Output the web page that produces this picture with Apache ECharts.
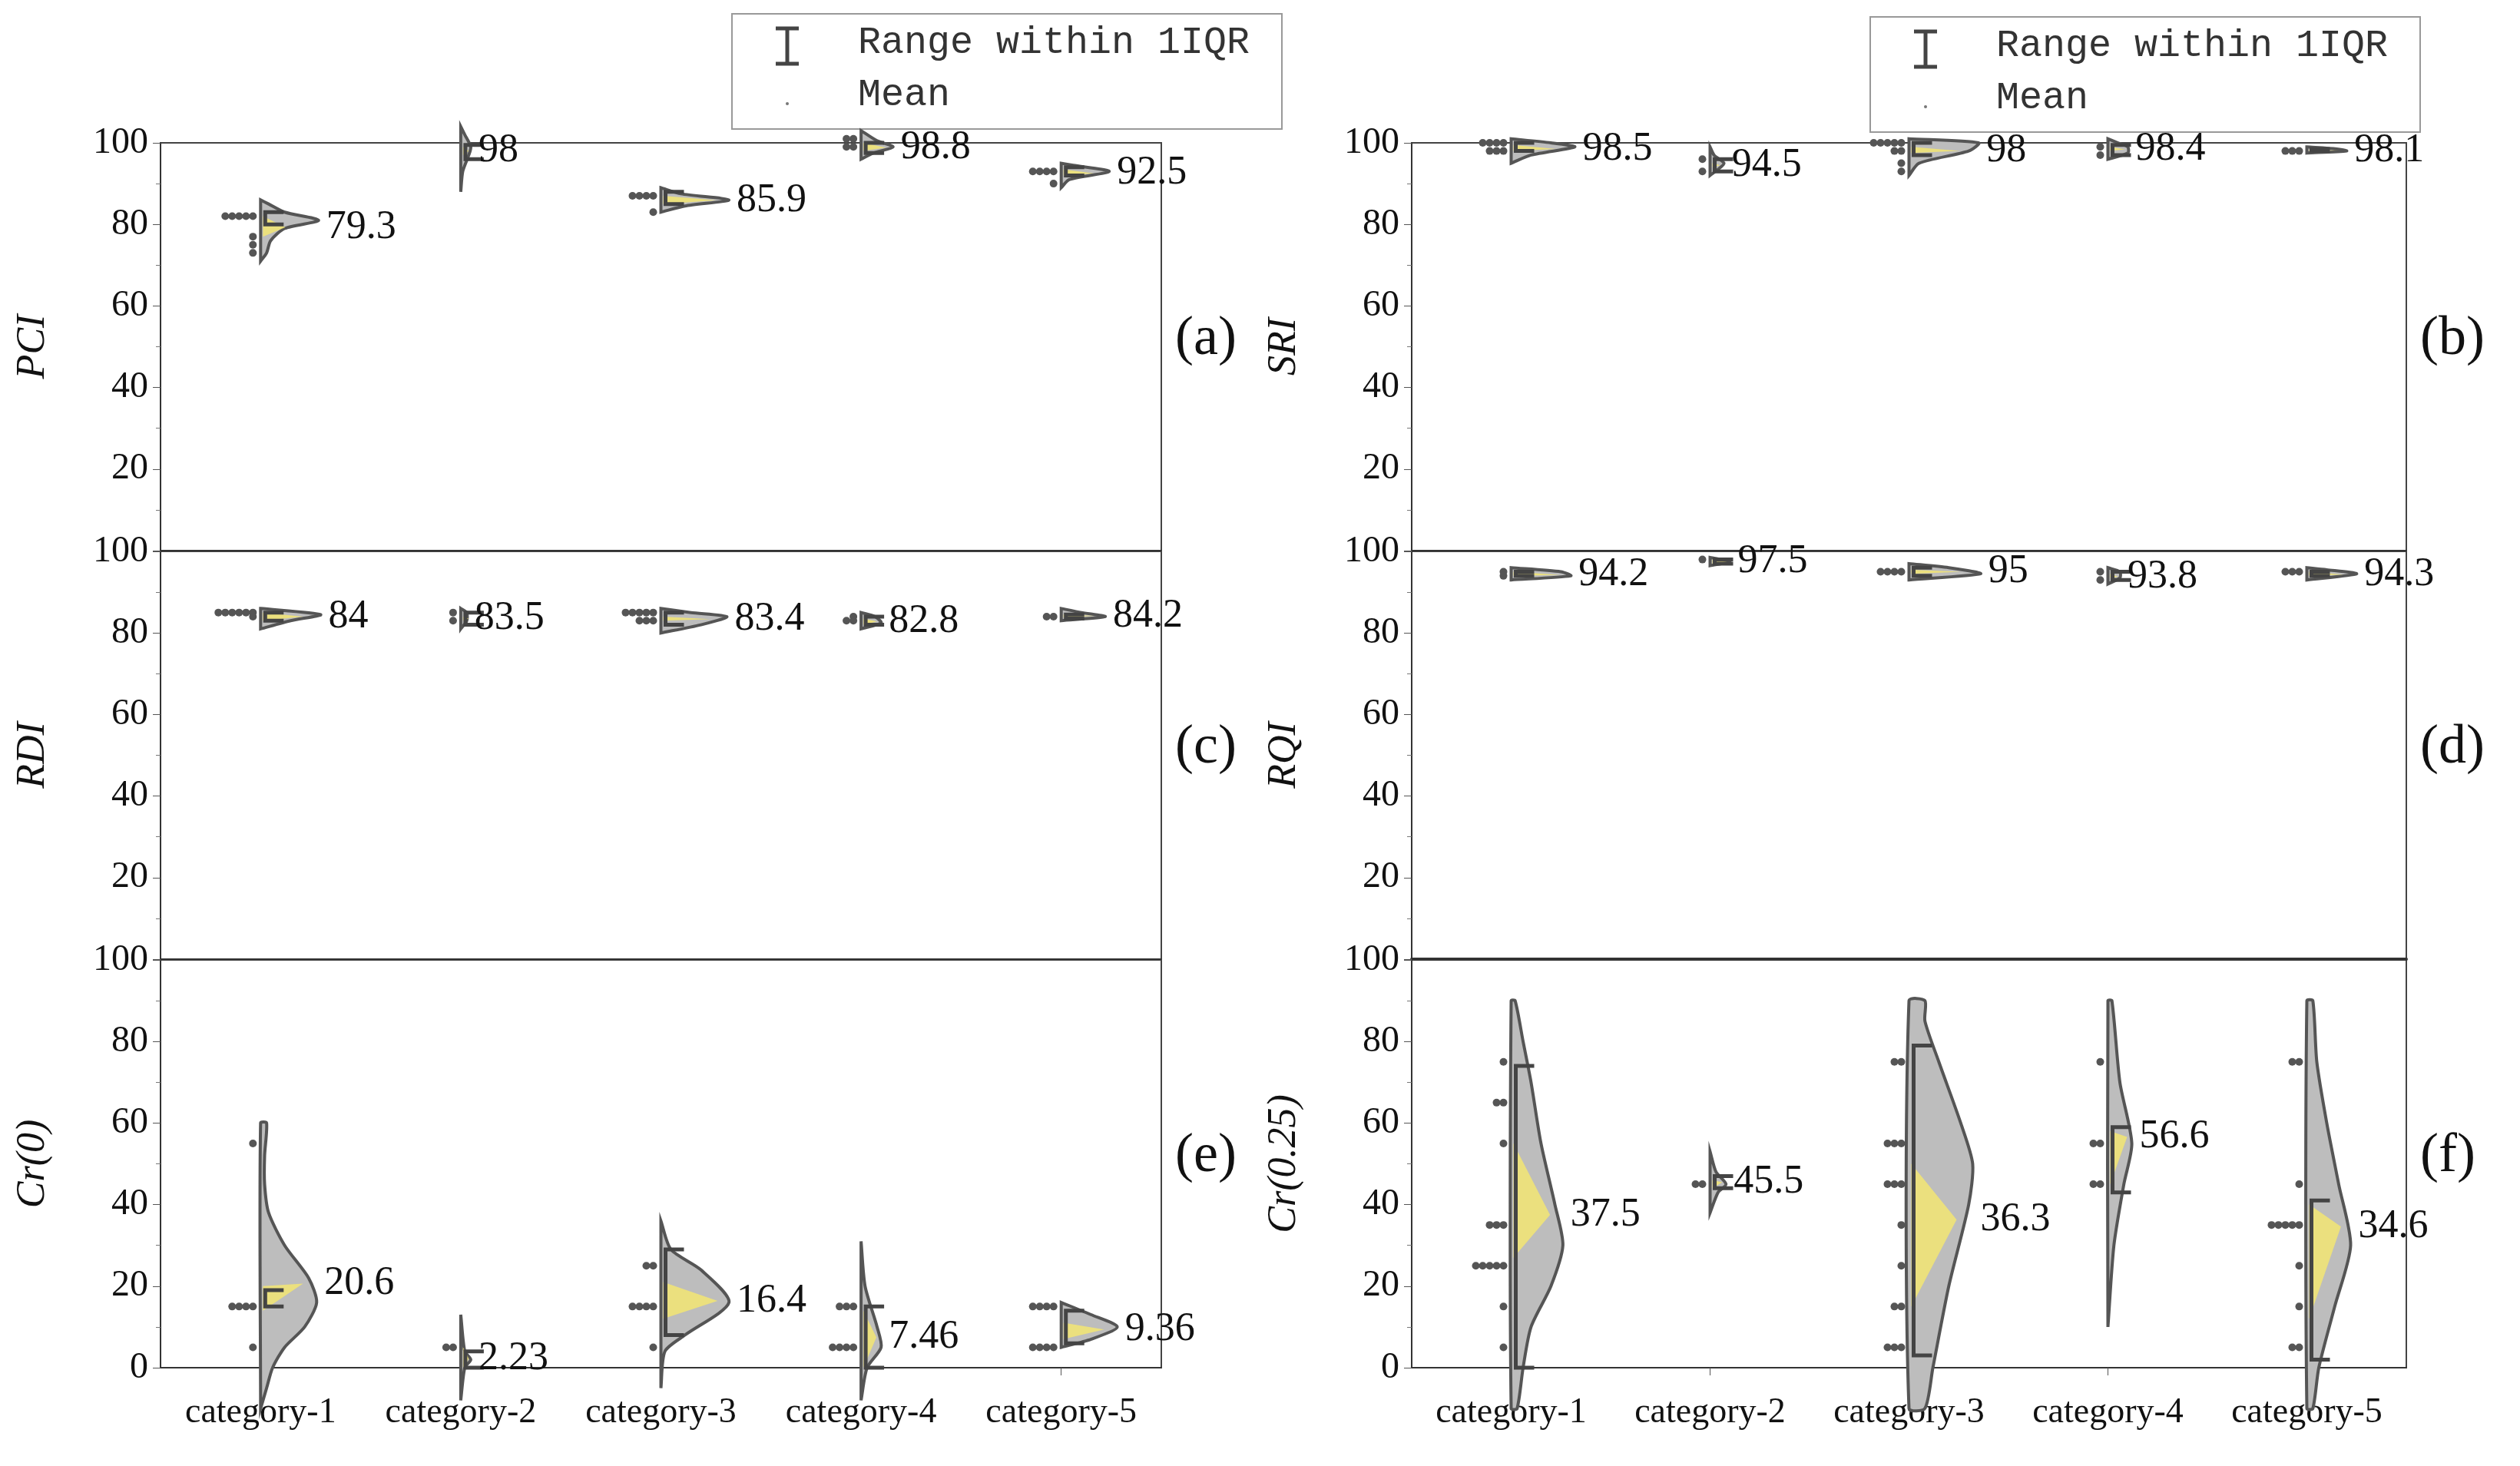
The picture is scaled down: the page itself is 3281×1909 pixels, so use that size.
<!DOCTYPE html>
<html>
<head>
<meta charset="utf-8"/>
<title>violins</title>
<script src="https://cdn.jsdelivr.net/npm/echarts@6/dist/echarts.min.js"></script>
</head>
<body style="margin:0;background:#fff">
<div id="main" style="width:3281px;height:1909px;"></div>
<script type="text/javascript">
var categories = ['category-1', 'category-2', 'category-3', 'category-4', 'category-5'];
var yTicks = [0, 20, 40, 60, 80, 100];

// PCI (a)
var pciMean = [79.3, 98, 85.9, 98.8, 92.5];
var pciShape = [
    [[71,0],[73,0.03],[76,0.05],[79,0.12],[81,0.29],[83,0.12],[85,0.04],[86,0]],
    [[88,0],[93,0.01],[97,0.04],[99,0.05],[102,0.02],[104,0]],
    [[83,0],[84.5,0.12],[86,0.34],[87.5,0.1],[89,0]],
    [[96,0],[97.5,0.06],[99,0.16],[100.5,0.08],[103,0]],
    [[89,0],[91,0.04],[93,0.24],[94.5,0.06],[95,0]]];
var pciIqr = [[80,83],[96,99.5],[85,88],[97.5,100],[92,94]];
var pciWedge = [[77,82],[97,99],[85,87],[98,100],[92,93.5]];
var pciPts = [[82,82,82,82,82,77,75,73],[],[87,87,87,87,83],[101,101,99,99],[93,93,93,93,90]];

// SRI (b)
var sriMean = [98.5, 94.5, 98, 98.4, 98.1];
var sriShape = [
    [[95,0],[97,0.1],[99,0.32],[100,0.2],[101,0]],
    [[92,0],[93.5,0.04],[95,0.07],[97,0.02],[99,0]],
    [[92,0],[95,0.05],[98,0.3],[100,0.35],[101,0]],
    [[96,0],[97.5,0.1],[99,0.1],[100,0.05],[101,0]],
    [[97.5,0],[98,0.2],[98.5,0.15],[99,0]]];
var sriIqr = [[98,100],[93,96],[97,100],[97,99.5],[98,98.5]];
var sriWedge = [[98,99.5],[94,95],[97.5,99],[98,99],[98,98.3]];
var sriPts = [[100,100,100,100,98,98,98],[96,93],[100,100,100,100,100,98,98,95,93],[99,97],[98,98,98]];

// RDI (c)
var rdiMean = [84, 83.5, 83.4, 82.8, 84.2];
var rdiShape = [
    [[81,0],[83,0.15],[84.5,0.3],[86,0]],
    [[81,0],[83,0.03],[85,0.03],[86,0]],
    [[80,0],[82,0.2],[84,0.33],[85,0.15],[86,0]],
    [[81,0],[82.5,0.1],[84,0.07],[85,0]],
    [[83,0],[84,0.22],[85,0.1],[86,0]]];
var rdiIqr = [[83,85],[82,85],[82,85],[82,84],[83.5,84.5]];
var rdiWedge = [[83,85],[83,84],[83,84],[82,83.5],[83.8,84.5]];
var rdiPts = [[85,85,85,85,85,85,84],[85,83],[85,85,85,85,85,83,83,83],[84,83,83],[84,84]];

// RQI (d)
var rqiMean = [94.2, 97.5, 95, 93.8, 94.3];
var rqiShape = [
    [[93,0],[94,0.3],[95,0.25],[96,0]],
    [[96.5,0],[97.5,0.1],[98.5,0]],
    [[93,0],[94.5,0.36],[96,0.2],[97,0]],
    [[92,0],[93.5,0.06],[95,0.06],[96,0]],
    [[93,0],[94.5,0.25],[95.5,0.1],[96,0]]];
var rqiIqr = [[94,95],[97,98],[94,96],[93,95],[94,95]];
var rqiWedge = [[94,95],[97,98],[94.5,95.5],[93.5,94.5],[94,95]];
var rqiPts = [[95,94],[98],[95,95,95,95],[95,93],[95,95,95]];

// Cr(0) (e)
var cr0Mean = [20.6, 2.23, 16.4, 7.46, 9.36];
var cr0Shape = [
    [[-10,0],[-5,0.03],[0,0.06],[5,0.12],[10,0.22],[16,0.28],[22,0.24],[30,0.12],[38,0.04],[45,0.02],[52,0.02],[60,0.03]],
    [[-8,0],[0,0.02],[2,0.05],[4,0.02],[13,0]],
    [[-5,0],[4,0.02],[8,0.12],[16,0.34],[24,0.2],[29,0.05],[36,0]],
    [[-8,0],[0,0.03],[5,0.1],[10,0.08],[20,0.02],[31,0]],
    [[5,0],[7,0.15],[10,0.28],[13,0.15],[16,0]]];
var cr0Iqr = [[15,19],[0,4],[8,29],[0,15],[6,14]];
var cr0Wedge = [[14,20],[0,5],[12,21],[0,14],[7,11]];
var cr0Pts = [[15,15,15,15,55,5],[5,5],[15,15,15,15,25,25,5],[15,15,15,5,5,5,5],[15,15,15,15,5,5,5,5]];

// Cr(0.25) (f)
var cr25Mean = [37.5, 45.5, 36.3, 56.6, 34.6];
var cr25Shape = [
    [[-10,0.03],[0,0.06],[10,0.1],[20,0.2],[30,0.26],[40,0.22],[55,0.15],[70,0.1],[80,0.06],[90,0.02]],
    [[38,0],[43,0.04],[45,0.08],[48,0.03],[53,0]],
    [[-10,0.08],[0,0.12],[20,0.2],[40,0.3],[50,0.32],[60,0.26],[75,0.15],[85,0.08],[90,0.08]],
    [[10,0],[30,0.03],[45,0.08],[55,0.12],[70,0.06],[90,0.02]],
    [[-10,0.03],[0,0.06],[15,0.14],[30,0.22],[45,0.16],[60,0.1],[75,0.05],[90,0.03]]];
var cr25Iqr = [[0,74],[44,47],[3,79],[43,59],[2,41]];
var cr25Wedge = [[27,55],[44,46],[15,50],[45,58],[12,40]];
var cr25Pts = [[75,65,65,55,35,35,35,25,25,25,25,25,15,5],[45,45],[75,75,55,55,55,45,45,45,35,25,15,15,5,5,5],[75,55,55,45,45],[75,75,45,35,35,35,35,35,25,15,5,5]];

var panels = [
    {name: 'PCI', tag: '(a)', mean: pciMean, shape: pciShape, iqr: pciIqr, wedge: pciWedge, pts: pciPts},
    {name: 'SRI', tag: '(b)', mean: sriMean, shape: sriShape, iqr: sriIqr, wedge: sriWedge, pts: sriPts},
    {name: 'RDI', tag: '(c)', mean: rdiMean, shape: rdiShape, iqr: rdiIqr, wedge: rdiWedge, pts: rdiPts},
    {name: 'RQI', tag: '(d)', mean: rqiMean, shape: rqiShape, iqr: rqiIqr, wedge: rqiWedge, pts: rqiPts},
    {name: 'Cr(0)', tag: '(e)', mean: cr0Mean, shape: cr0Shape, iqr: cr0Iqr, wedge: cr0Wedge, pts: cr0Pts},
    {name: 'Cr(0.25)', tag: '(f)', mean: cr25Mean, shape: cr25Shape, iqr: cr25Iqr, wedge: cr25Wedge, pts: cr25Pts}
];

var FONT = '"Liberation Serif", "DejaVu Serif", serif';
var tops = [186, 718, 1250];
var H = 531;
var colL = {left: 209, width: 1303};
var colR = {left: 1838, width: 1295};

function widthAt(prof, y) {
    for (var i = 0; i < prof.length - 1; i++) {
        if (y >= prof[i][0] && y <= prof[i + 1][0]) {
            var t = (y - prof[i][0]) / (prof[i + 1][0] - prof[i][0]);
            return prof[i][1] + t * (prof[i + 1][1] - prof[i][1]);
        }
    }
    return 0;
}

var grids = [], xAxes = [], yAxes = [], series = [], graphics = [];
panels.forEach(function (p, k) {
    var col = k % 2 === 0 ? colL : colR;
    var row = Math.floor(k / 2);
    var bottom = row === 2;
    grids.push({left: col.left, width: col.width, top: tops[row], height: H,
        show: true, borderColor: '#444', borderWidth: 2, backgroundColor: 'transparent'});
    xAxes.push({type: 'category', gridIndex: k, data: categories,
        axisLine: {show: true, lineStyle: {color: '#333', width: (k === 3) ? 4 : 2}},
        axisTick: {show: bottom, alignWithLabel: true, length: 10, lineStyle: {color: '#555'}},
        axisLabel: {show: bottom, fontFamily: FONT, fontSize: 46, color: '#111', margin: 36}});
    yAxes.push({type: 'value', gridIndex: k, min: 0, max: 100, interval: 20,
        name: p.name, nameLocation: 'middle', nameGap: 140,
        nameTextStyle: {fontFamily: FONT, fontSize: 52, fontStyle: 'italic', color: '#111'},
        axisLine: {show: true, lineStyle: {color: '#333', width: 2}},
        axisTick: {show: true, length: 10, lineStyle: {color: '#555'}},
        minorTick: {show: true, splitNumber: 2, length: 6, lineStyle: {color: '#777'}},
        splitLine: {show: false},
        axisLabel: {fontFamily: FONT, fontSize: 48, color: '#111', margin: 16,
            formatter: (function (b) { return function (v) { return (v === 0 && !b) ? '' : v; }; })(bottom)}});
    series.push({
        type: 'custom', xAxisIndex: k, yAxisIndex: k, clip: false,
        data: p.mean.map(function (m, i) { return [i, m]; }),
        renderItem: function (params, api) {
            var i = api.value(0);
            var prof = p.shape[i];
            var band = api.size([1, 0])[0];
            var cx = api.coord([i, 0])[0];
            var kids = [];
            var pts = [];
            prof.forEach(function (d) { pts.push([cx + d[1] * band, api.coord([i, d[0]])[1]]); });
            pts.push([cx, api.coord([i, prof[prof.length - 1][0]])[1]]);
            pts.push([cx, api.coord([i, prof[0][0]])[1]]);
            var maxW = 0;
            prof.forEach(function (d) { if (d[1] > maxW) maxW = d[1]; });
            kids.push({type: 'polygon', shape: {points: pts, smooth: 0.25},
                style: {fill: '#bdbdbd', stroke: '#555', lineWidth: 4}});
            var m = api.value(1);
            var w = p.wedge[i];
            var tip = Math.max(widthAt(prof, m) * 0.85, 0.04) * band;
            kids.push({type: 'polygon', shape: {points: [
                [cx + 3, api.coord([i, w[0]])[1]], [cx + 3, api.coord([i, w[1]])[1]],
                [cx + tip, api.coord([i, m])[1]]]},
                style: {fill: 'rgba(246,232,110,0.8)'}});
            var q = p.iqr[i];
            var y0 = api.coord([i, q[0]])[1], y1 = api.coord([i, q[1]])[1];
            kids.push({type: 'polyline', shape: {points: [[cx + 30, y0], [cx + 6, y0], [cx + 6, y1], [cx + 30, y1]]},
                style: {stroke: '#444', lineWidth: 5, fill: null}});
            var seen = {};
            p.pts[i].forEach(function (v) {
                var n = seen[v] || 0;
                seen[v] = n + 1;
                kids.push({type: 'circle', shape: {cx: cx - 10 - n * 9, cy: api.coord([i, v])[1], r: 5},
                    style: {fill: '#555'}});
            });
            kids.push({type: 'text', style: {text: String(m), x: cx + maxW * band + 10, y: api.coord([i, m])[1],
                verticalAlign: 'middle', fontFamily: FONT, fontSize: 52, fill: '#111'}});
            return {type: 'group', children: kids};
        }
    });
    graphics.push({type: 'text', left: col.left + col.width + 18, top: tops[row] + 220,
        style: {text: p.tag, fontFamily: FONT, fontSize: 72, fill: '#111'}});
});

// legend boxes
[[952, 17], [2434, 21]].forEach(function (b) {
    graphics.push({type: 'rect', left: b[0], top: b[1], shape: {width: 716, height: 150},
        style: {fill: '#fff', stroke: '#999', lineWidth: 2}});
    graphics.push({type: 'polyline', shape: {points: [[b[0] + 58, b[1] + 20], [b[0] + 88, b[1] + 20],
        [b[0] + 73, b[1] + 20], [b[0] + 73, b[1] + 66], [b[0] + 58, b[1] + 66], [b[0] + 88, b[1] + 66]]},
        style: {stroke: '#444', lineWidth: 5, fill: null}});
    graphics.push({type: 'circle', shape: {cx: b[0] + 73, cy: b[1] + 118, r: 2}, style: {fill: '#777'}});
    graphics.push({type: 'text', left: b[0] + 165, top: b[1] + 14,
        style: {text: 'Range within 1IQR', fontFamily: '"Liberation Mono", monospace', fontSize: 50, fill: '#333'}});
    graphics.push({type: 'text', left: b[0] + 165, top: b[1] + 82,
        style: {text: 'Mean', fontFamily: '"Liberation Mono", monospace', fontSize: 50, fill: '#333'}});
});

var myChart = echarts.init(document.getElementById('main'));
myChart.setOption({
    backgroundColor: '#fff',
    animation: false,
    grid: grids,
    xAxis: xAxes,
    yAxis: yAxes,
    series: series,
    graphic: graphics
});
</script>
</body>
</html>
